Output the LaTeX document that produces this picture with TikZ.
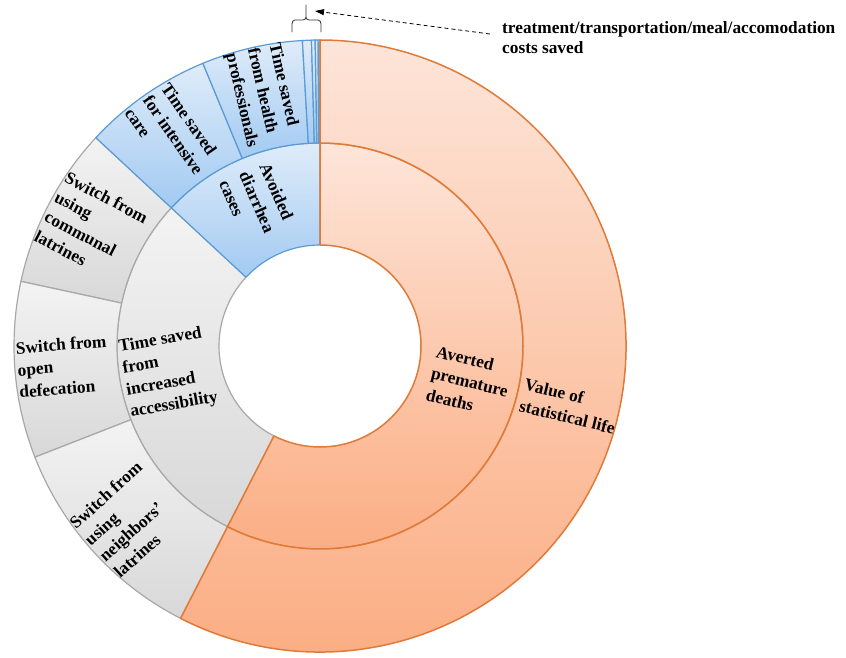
\documentclass[tikz,border=0pt]{standalone}
\usepackage{fontspec}
\setmainfont{Liberation Serif}
\usetikzlibrary{arrows.meta}
\definecolor{orEdge}{HTML}{E07A38}
\definecolor{orTop}{HTML}{FDE5D9}
\definecolor{orBot}{HTML}{FBAA7E}
\definecolor{grEdge}{HTML}{A8A8A8}
\definecolor{grTop}{HTML}{F3F3F3}
\definecolor{grBot}{HTML}{D8D8D8}
\definecolor{blEdge}{HTML}{5B9BD5}
\definecolor{blTop}{HTML}{DFECF9}
\definecolor{blBot}{HTML}{A2CAF2}
\newcommand\sunseg[5]{%
  \path[#5] (#3:#1) -- (#3:#2) arc[start angle=#3, end angle=#4, radius=#2]
    -- (#4:#1) arc[start angle=#4, end angle=#3, radius=#1] -- cycle;}
\tikzset{
  orangeseg/.style={top color=orTop, bottom color=orBot, draw=orEdge, line width=1.5pt, line join=round},
  greyseg/.style={top color=grTop, bottom color=grBot, draw=grEdge, line width=1.2pt, line join=round},
  blueseg/.style={top color=blTop, bottom color=blBot, draw=blEdge, line width=1.2pt, line join=round},
  lbl/.style={font=\fontsize{17.3}{22}\selectfont\bfseries, align=left, text=black, inner sep=0pt},
  notelbl/.style={font=\fontsize{17.3}{20}\selectfont\bfseries, align=left, text=black, inner sep=0pt},
}
\begin{document}
\begin{tikzpicture}[x=1pt,y=1pt]
\fill[white] (0,0) rectangle (846,657);
\useasboundingbox (0,0) rectangle (846,657);
\begin{scope}[shift={(320,311)}]
  % grey segments
  \sunseg{101}{203}{137.1}{242.9}{greyseg}
  \sunseg{203}{306}{137.1}{167.8}{greyseg}
  \sunseg{203}{306}{167.8}{201.3}{greyseg}
  \sunseg{203}{306}{201.3}{242.9}{greyseg}
  % blue segments
  \sunseg{101}{203}{90}{137.1}{blueseg}
  \sunseg{203}{306}{112.5}{137.1}{blueseg}
  \sunseg{203}{306}{93.3}{112.5}{blueseg}
  \sunseg{203}{306}{91.6}{93.3}{blueseg}
  \sunseg{203}{306}{90.9}{91.6}{blueseg}
  \sunseg{203}{306}{90.35}{90.9}{blueseg}
  \sunseg{203}{306}{90}{90.35}{blueseg}
  % orange segments
  \sunseg{101}{203}{-117.1}{90}{orangeseg}
  \sunseg{203}{306}{-117.1}{90}{orangeseg}
  % labels
  \node[lbl, rotate=-13.55] (vsl) at (-13.55:257) {Value of\\statistical life};
  \node[lbl, rotate=-13.55] (apd) at (-13.55:154) {Averted\\premature\\deaths};
  \node[lbl, rotate=-66.45] (adc) at (113.55:157) {Avoided\\diarrhea\\cases};
  \node[lbl, rotate=10] (acc) at (190:154) {Time saved\\from\\increased\\accessibility};
  \node[lbl, rotate=-77.1] (hp) at (102.9:257) {Time saved\\from health\\professionals};
  \node[lbl, rotate=-55.2] (ic) at (124.8:257) {Time saved\\for intensive\\care};
  \node[lbl, rotate=-27.55] (cl) at (152.45:258) {Switch from\\using\\communal\\latrines};
  \node[lbl, rotate=4.55] (od) at (184.55:258) {Switch from\\open\\defecation};
  \node[lbl, rotate=42.1] (nl) at (222.1:259) {Switch from\\using\\neighbors’\\latrines};
\end{scope}
% note and pointer
\node[notelbl, anchor=north west] (note) at (502,636) {treatment/transportation/meal/accomodation\\costs saved};
\coordinate (tail) at (490,623);
\coordinate (tip) at (315,646);
\draw[line width=0.8pt, dash pattern=on 4pt off 3pt, -{Triangle[length=9pt,width=6pt]}] (tail) -- (tip);
% brace
\draw[line width=0.8pt, black!80, line cap=round]
  (292,625) -- (292,633) to[out=90,in=180] (295,637) -- (303,637) to[out=0,in=270] (306,640) -- (306,652)
  (306,640) to[out=270,in=180] (309,637) -- (318,637) to[out=0,in=90] (321,633) -- (321,625);
\end{tikzpicture}
\end{document}
